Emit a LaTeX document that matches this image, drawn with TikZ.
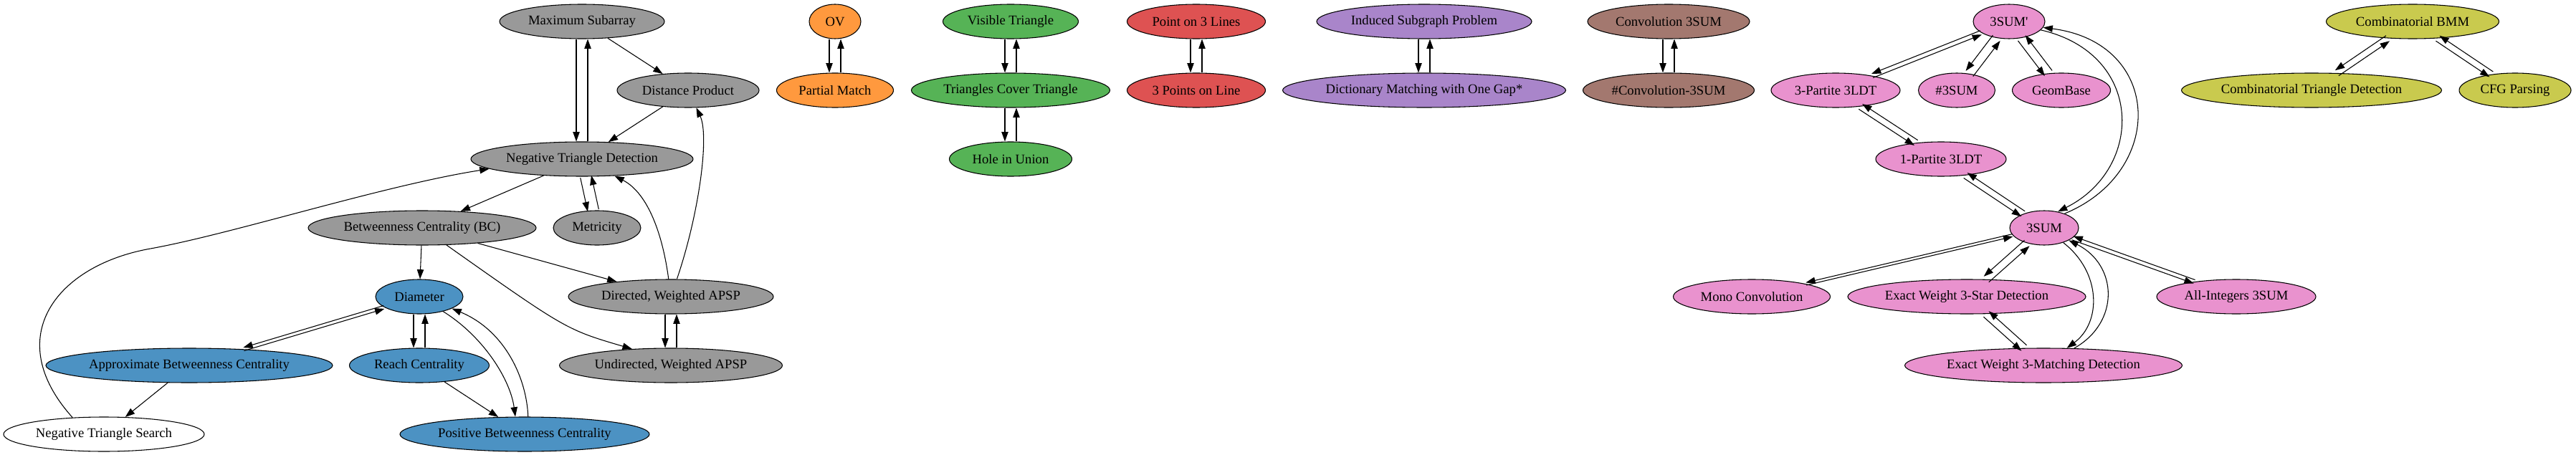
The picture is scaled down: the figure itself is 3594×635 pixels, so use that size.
\documentclass[tikz,border=0pt]{standalone}
\usepackage{fontspec}
\newfontfamily\gvfont{Liberation Serif}
\usetikzlibrary{shapes.geometric,arrows.meta}

\definecolor{cgray}{HTML}{999999}
\definecolor{cblue}{HTML}{4C92C3}
\definecolor{corange}{HTML}{FF993E}
\definecolor{cgreen}{HTML}{56B356}
\definecolor{cred}{HTML}{DE5252}
\definecolor{cpurple}{HTML}{A985CA}
\definecolor{cbrown}{HTML}{A3786F}
\definecolor{cpink}{HTML}{E992CE}
\definecolor{colive}{HTML}{C9CA4E}

\newcommand{\gvl}[1]{\makebox[0pt]{#1}}

% pair of opposite edges between #1 (upper) and #2 (lower)
\newcommand{\pairedge}[2]{%
  \pgfpointdiff{\pgfpointanchor{#1}{center}}{\pgfpointanchor{#2}{center}}%
  \pgfgetlastxy{\pdx}{\pdy}%
  \pgfmathsetmacro{\pux}{\pdx/100}%
  \pgfmathsetmacro{\puy}{\pdy/100}%
  \pgfmathsetmacro{\pll}{\pux*\pux+\puy*\puy}%
  \pgfmathsetmacro{\psx}{-6*\puy*\puy/\pll}%
  \pgfmathsetmacro{\psy}{6*\puy*\pux/\pll}%
  \pgfmathsetmacro{\pmx}{-1*\psx}%
  \pgfmathsetmacro{\pmy}{-1*\psy}%
  \draw[conn, transform canvas={shift={(\psx pt,\psy pt)}}] (#1) -- (#2);%
  \draw[conn, transform canvas={shift={(\pmx pt,\pmy pt)}}] (#2) -- (#1);%
}

\begin{document}
\begin{tikzpicture}[x=0.75pt,y=-0.75pt,
  nd/.style={ellipse, draw=black, line width=0.8pt, inner sep=0pt, minimum height=36pt,
    font=\gvfont\fontsize{14}{16}\selectfont},
  conn/.style={draw=black, line width=0.8pt, -{Triangle[length=10pt,width=7pt]}}]
\useasboundingbox (0,0) rectangle (3594,635);

% gray cluster
\node[nd, fill=cgray, minimum width=172.5pt] (ms) at (812,30) {\gvl{Maximum Subarray}};
\node[nd, fill=cgray, minimum width=148.5pt] (dp) at (960,126) {\gvl{Distance Product}};
\node[nd, fill=cgray, minimum width=232.5pt] (ntd) at (812,222) {\gvl{Negative Triangle Detection}};
\node[nd, fill=cgray, minimum width=238.5pt] (bc) at (589,318) {\gvl{Betweenness Centrality (BC)}};
\node[nd, fill=cgray, minimum width=91.5pt] (met) at (833,318) {\gvl{Metricity}};
\node[nd, fill=cgray, minimum width=214.5pt] (dwa) at (936,414) {\gvl{Directed, Weighted APSP}};
\node[nd, fill=cgray, minimum width=233.25pt] (uwa) at (936,510) {\gvl{Undirected, Weighted APSP}};
% blue
\node[nd, fill=cblue, minimum width=91.5pt] (dia) at (585,414) {\gvl{Diameter}};
\node[nd, fill=cblue, minimum width=300pt] (abc) at (264,510) {\gvl{Approximate Betweenness Centrality}};
\node[nd, fill=cblue, minimum width=146.25pt] (rc) at (585,510) {\gvl{Reach Centrality}};
\node[nd, fill=cblue, minimum width=261pt] (pbc) at (732,606) {\gvl{Positive Betweenness Centrality}};
\node[nd, fill=white, minimum width=210pt] (nts) at (145,606) {\gvl{Negative Triangle Search}};
% orange
\node[nd, fill=corange, minimum width=54pt] (ov) at (1165,30) {\gvl{OV}};
\node[nd, fill=corange, minimum width=122.25pt] (pm) at (1165,126) {\gvl{Partial Match}};
% green
\node[nd, fill=cgreen, minimum width=141.75pt] (vt) at (1410,30) {\gvl{Visible Triangle}};
\node[nd, fill=cgreen, minimum width=207.75pt] (tct) at (1410,126) {\gvl{Triangles Cover Triangle}};
\node[nd, fill=cgreen, minimum width=128.25pt] (hiu) at (1410,222) {\gvl{Hole in Union}};
% red
\node[nd, fill=cred, minimum width=144.75pt] (p3l) at (1669,30) {\gvl{Point on 3 Lines}};
\node[nd, fill=cred, minimum width=144.75pt] (p3p) at (1669,126) {\gvl{3 Points on Line}};
% purple
\node[nd, fill=cpurple, minimum width=225pt] (isp) at (1987,30) {\gvl{Induced Subgraph Problem}};
\node[nd, fill=cpurple, minimum width=296.25pt] (dm) at (1987,126) {\gvl{Dictionary Matching with One Gap*}};
% brown
\node[nd, fill=cbrown, minimum width=169.5pt] (cs) at (2328,30) {\gvl{Convolution 3SUM}};
\node[nd, fill=cbrown, minimum width=179.25pt] (ncs) at (2328,126) {\gvl{\#Convolution-3SUM}};
% pink
\node[nd, fill=cpink, minimum width=75pt] (s3p) at (2803,30) {\gvl{3SUM'}};
\node[nd, fill=cpink, minimum width=135pt] (pt3) at (2561,126) {\gvl{3-Partite 3LDT}};
\node[nd, fill=cpink, minimum width=80.25pt] (n3) at (2730,126) {\gvl{\#3SUM}};
\node[nd, fill=cpink, minimum width=102.75pt] (gb) at (2876,126) {\gvl{GeomBase}};
\node[nd, fill=cpink, minimum width=136.5pt] (pt1) at (2708,222) {\gvl{1-Partite 3LDT}};
\node[nd, fill=cpink, minimum width=72pt] (s3) at (2852,318) {\gvl{3SUM}};
\node[nd, fill=cpink, minimum width=164.25pt] (mc) at (2444,414) {\gvl{Mono Convolution}};
\node[nd, fill=cpink, minimum width=249pt] (ews) at (2744,414) {\gvl{Exact Weight 3-Star Detection}};
\node[nd, fill=cpink, minimum width=166.5pt] (ai) at (3120,414) {\gvl{All-Integers 3SUM}};
\node[nd, fill=cpink, minimum width=290.25pt] (ewm) at (2851,510) {\gvl{Exact Weight 3-Matching Detection}};
% olive
\node[nd, fill=colive, minimum width=180.75pt] (bmm) at (3366,30) {\gvl{Combinatorial BMM}};
\node[nd, fill=colive, minimum width=272.25pt] (ctd) at (3225,126) {\gvl{Combinatorial Triangle Detection}};
\node[nd, fill=colive, minimum width=117pt] (cfg) at (3509,126) {\gvl{CFG Parsing}};

% single straight edges
\draw[conn] (ms) -- (dp);
\draw[conn] (dp) -- (ntd);
\draw[conn] (ntd) -- (bc);
\draw[conn] (bc) -- (dia);
\draw[conn] (bc) -- (dwa);
\draw[conn] (abc) -- (nts);
\draw[conn] (rc) -- (pbc);

% curved edges
\draw[conn] (bc) .. controls (790,460) .. (uwa.157);
\draw[conn] (dwa) .. controls (925,330) and (905,270) .. (ntd);
\draw[conn] (dwa) .. controls (975,300) and (990,190) .. (dp);
\draw[conn] (nts.152) .. controls (0,470) and (80,370) .. (210,347)
                      .. controls (326,326) and (534,259) .. (ntd.186);
\draw[conn] (dia) .. controls (675,470) and (712,530) .. (pbc.118);
\draw[conn] (pbc.79) .. controls (735,530) and (706,462) .. (dia.-20);
\draw[conn] (s3p.-15) .. controls (2992,75) and (2992,235) .. (s3.50);
\draw[conn] (s3.35) .. controls (3022,240) and (3018,60) .. (s3p.-10);
\draw[conn] (s3) .. controls (2932,380) and (2932,450) .. (ewm);
\draw[conn] (ewm) .. controls (2958,450) and (2955,370) .. (s3);

% pairs of opposite edges
\pairedge{ms}{ntd}
\pairedge{ntd}{met}
\pairedge{dwa}{uwa}
\pairedge{dia}{abc}
\pairedge{dia}{rc}
\pairedge{ov}{pm}
\pairedge{vt}{tct}
\pairedge{tct}{hiu}
\pairedge{p3l}{p3p}
\pairedge{isp}{dm}
\pairedge{cs}{ncs}
\pairedge{s3p}{pt3}
\pairedge{s3p}{n3}
\pairedge{s3p}{gb}
\pairedge{pt3}{pt1}
\pairedge{pt1}{s3}
\pairedge{s3}{mc}
\pairedge{s3}{ews}
\pairedge{s3}{ai}
\pairedge{ews}{ewm}
\pairedge{bmm}{ctd}
\pairedge{bmm}{cfg}
\end{tikzpicture}
\end{document}
